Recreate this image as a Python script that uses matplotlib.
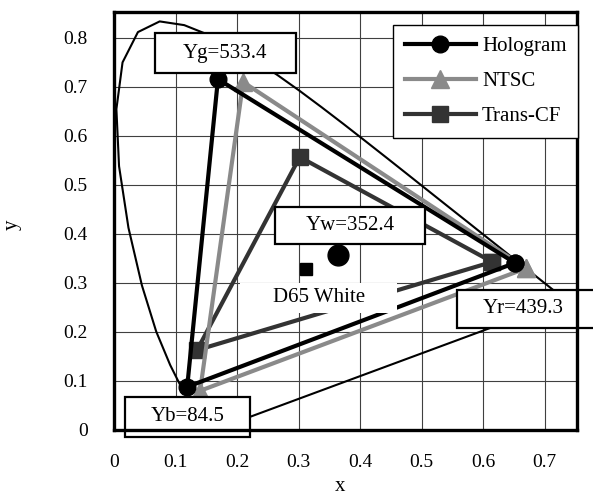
"""CIE 1931 chromaticity diagram: Hologram vs NTSC vs Trans-CF gamuts.

Run: python plot.py
"""
import matplotlib
matplotlib.use("Agg")
import matplotlib.pyplot as plt
from matplotlib.patches import Rectangle

plt.rcParams["font.family"] = ["Liberation Serif", "DejaVu Serif"]

# spectrum locus (CIE 1931 2 deg), closed with the purple line
locus_x = [0.1741, 0.1733, 0.1714, 0.1689, 0.1644, 0.1566, 0.1440, 0.1355,
           0.1241, 0.1096, 0.0913, 0.0687, 0.0454, 0.0235, 0.0082, 0.0039,
           0.0139, 0.0389, 0.0743, 0.1142, 0.1547, 0.1929, 0.2296, 0.2658,
           0.3016, 0.3373, 0.3731, 0.4087, 0.4441, 0.4788, 0.5125, 0.5448,
           0.5752, 0.6029, 0.6270, 0.6482, 0.6658, 0.6915, 0.7079, 0.7190,
           0.7260, 0.7300, 0.7334, 0.7347, 0.1741]
locus_y = [0.0050, 0.0048, 0.0051, 0.0069, 0.0109, 0.0177, 0.0297, 0.0399,
           0.0578, 0.0868, 0.1327, 0.2007, 0.2950, 0.4127, 0.5384, 0.6548,
           0.7502, 0.8120, 0.8338, 0.8262, 0.8059, 0.7816, 0.7543, 0.7243,
           0.6923, 0.6589, 0.6245, 0.5896, 0.5547, 0.5202, 0.4866, 0.4544,
           0.4242, 0.3965, 0.3725, 0.3514, 0.3340, 0.3083, 0.2920, 0.2809,
           0.2740, 0.2700, 0.2666, 0.2653, 0.0050]

# gamut triangles, R -> G -> B -> R
holo_x = [0.652, 0.169, 0.119, 0.652]
holo_y = [0.341, 0.716, 0.088, 0.341]
ntsc_x = [0.67, 0.21, 0.14, 0.67]
ntsc_y = [0.33, 0.71, 0.08, 0.33]
tcf_x = [0.615, 0.302, 0.135, 0.615]
tcf_y = [0.343, 0.557, 0.163, 0.343]

# white points
holo_white = (0.364, 0.357)
d65_white = (0.3127, 0.3290)

labels = ["Yg=533.4", "Yw=352.4", "Yr=439.3", "Yb=84.5"]


def main():
    fig = plt.figure(figsize=(5.93, 5.0), dpi=100)
    ax = fig.add_axes([114 / 593, 70 / 500, 463 / 593, 418 / 500])
    ax.set_xlim(0, 0.7528)
    ax.set_ylim(0, 0.853)

    ax.set_xticks([0.0, 0.1, 0.2, 0.3, 0.4, 0.5, 0.6, 0.7])
    ax.set_xticklabels(["0", "0.1", "0.2", "0.3", "0.4", "0.5", "0.6", "0.7"])
    ax.set_yticks([0.0, 0.1, 0.2, 0.3, 0.4, 0.5, 0.6, 0.7, 0.8])
    ax.set_yticklabels(["0", "0.1", "0.2", "0.3", "0.4", "0.5", "0.6", "0.7", "0.8"])
    ax.tick_params(length=0, labelsize=14)
    ax.tick_params(axis="x", pad=17)
    ax.tick_params(axis="y", pad=19)
    ax.grid(True, color="#404040", lw=0.8)
    ax.set_axisbelow(True)
    for s in ax.spines.values():
        s.set_linewidth(2.4)
        s.set_zorder(10)

    ax.set_xlabel("x", fontsize=15)
    ax.set_ylabel("y", fontsize=15)
    ax.xaxis.set_label_coords(0.488, -0.112)
    ax.yaxis.set_label_coords(-0.20, 0.49)

    ax.plot(locus_x, locus_y, color="black", lw=1.5, zorder=2)

    ax.plot(tcf_x, tcf_y, color="#333333", lw=3, marker="s", ms=12,
            label="Trans-CF", zorder=3)
    ax.plot(ntsc_x, ntsc_y, color="#8a8a8a", lw=3, marker="^", ms=13,
            label="NTSC", zorder=4)
    ax.plot(holo_x, holo_y, color="black", lw=3, marker="o", ms=12,
            label="Hologram", zorder=5)

    ax.plot(*holo_white, marker="o", color="black", ms=15, ls="none", zorder=5)
    ax.plot(*d65_white, marker="s", color="black", ms=9, ls="none", zorder=5)

    # label boxes (centre x, centre y, width, height) in data units
    boxes = [(0.181, 0.769, 0.229, 0.082),
             (0.384, 0.418, 0.244, 0.0755),
             (0.685, 0.247, 0.255, 0.078),
             (0.12, 0.027, 0.203, 0.082)]
    text_x = [0.181, 0.384, 0.665, 0.12]
    for lab, (cx, cy, w, h), tx in zip(labels, boxes, text_x):
        ax.add_patch(Rectangle((cx - w / 2, cy - h / 2), w, h, facecolor="white",
                               edgecolor="black", lw=1.6, zorder=8, clip_on=False))
        ax.text(tx, cy, lab, fontsize=15, ha="center", va="center", zorder=9,
                clip_on=False)

    ax.add_patch(Rectangle((0.205, 0.239), 0.255, 0.061, facecolor="white",
                           edgecolor="none", zorder=8))
    ax.text(0.333, 0.271, "D65 White", fontsize=15, ha="center", va="center",
            zorder=9)

    handles, labs = ax.get_legend_handles_labels()
    order = [2, 1, 0]
    leg = ax.legend([handles[i] for i in order], [labs[i] for i in order],
                    loc="upper right", bbox_to_anchor=(1.002, 0.969),
                    borderaxespad=0, fontsize=15, handlelength=3.4,
                    labelspacing=0.75, handletextpad=0.3, borderpad=0.55,
                    fancybox=False, framealpha=1, edgecolor="black")
    leg.get_frame().set_linewidth(1.0)
    leg.set_zorder(11)

    fig.savefig("out.png", dpi=100)


if __name__ == "__main__":
    main()
